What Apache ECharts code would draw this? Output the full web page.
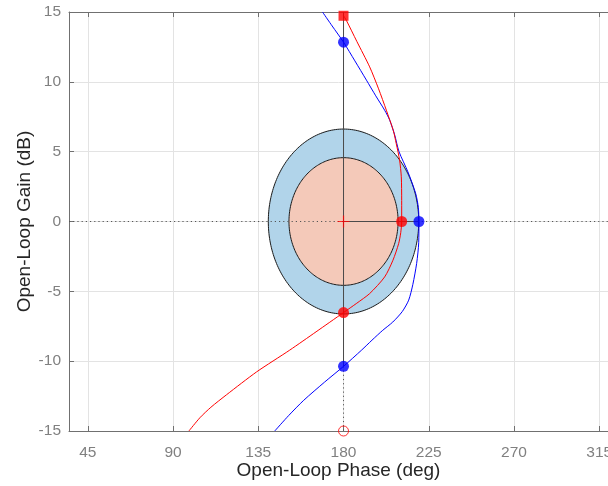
<!DOCTYPE html>
<html><head><meta charset="utf-8">
<script src="https://cdn.jsdelivr.net/npm/echarts@6/dist/echarts.min.js"></script>
<style>html,body{margin:0;padding:0;background:#fff}#c{width:608px;height:486px}</style>
</head><body><div id="c"></div><script>
// ---- data ----
const xTicks = [45, 90, 135, 180, 225, 270, 315];
const xRange = [35.1, 319.6];
const yRange = [-15, 15];
// disks: [centerPhase, centerGain, halfWidthDeg, halfHeightDb]
const outerDisk = [180, 0, 39.7, 6.62];
const innerDisk = [180, 0, 28.8, 4.57];
const blueCurve = [
  [168.9, 15], [174, 14], [180, 12.84], [186, 11.5], [192.1, 10.12], [197, 9.0],
  [201.7, 7.97], [204.4, 7.25], [207, 6.2], [209.3, 5.0], [214, 3.55], [218.1, 2.0],
  [219.5, 1.0], [219.8, 0], [219.7, -1.5], [218.6, -3.0], [216.6, -4.5], [214.4, -5.63],
  [211, -6.45], [206, -7.2], [200.7, -7.79], [195, -8.5], [189.6, -9.2],
  [180, -10.37], [170, -11.5], [159, -12.8], [151, -13.9], [143.7, -15]
];
const redCurve = [
  [180, 14.73], [181.5, 14.4], [187, 12.9], [193.8, 11.07], [198.5, 9.5], [202.6, 7.97],
  [206.3, 6.5], [207.8, 5.59], [209.6, 4.39], [210.5, 3.2], [210.7, 1.5], [210.7, 0],
  [210.2, -0.8], [209.1, -1.58], [206.1, -2.77], [201.7, -3.97], [193.8, -5.16],
  [187, -5.85], [180, -6.52], [165.5, -7.9], [151.6, -9.21], [134.1, -10.77],
  [118.3, -12.4], [110, -13.3], [104.2, -14.05], [98.4, -15]
];
const blueDots = [[180, 12.84], [219.8, 0], [180, -10.37]];
const redDots = [[210.7, 0], [180, -6.52]];
const redSquare = [[180, 14.73]];
const redCross = [[180, 0]];
const redOpen = [[180, -15]];
const gainLine = [[180, 15], [180, -10.37]];
const gainDotted = [[180, -10.37], [180, -15]];
const phaseLine = [[180, 0], [219.8, 0]];
const zeroDotted = [[35.1, 0], [319.6, 0]];

// ---- chart ----
const FONT = '"Liberation Sans", Arial, sans-serif';
function diskItem(fill) {
  return function (params, api) {
    const cx = api.value(0), cy = api.value(1), rx = api.value(2), ry = api.value(3);
    const pts = [];
    for (let i = 0; i < 240; i++) {
      const t = i / 240 * 2 * Math.PI;
      pts.push(api.coord([cx + rx * Math.cos(t), cy + ry * Math.sin(t)]));
    }
    return { type: 'polygon', shape: { points: pts }, style: { fill: fill, stroke: '#1a1a1a', lineWidth: 1 } };
  };
}
const chart = echarts.init(document.getElementById('c'), null, { renderer: 'canvas' });
const lineBase = { type: 'line', symbol: 'none', silent: true, animation: false };
chart.setOption({
  animation: false,
  backgroundColor: '#ffffff',
  grid: { left: 69, top: 12, right: 0, bottom: 55, outerBoundsMode: 'none', containLabel: false },
  xAxis: [{
    type: 'value', min: xRange[0], max: xRange[1],
    name: 'Open-Loop Phase (deg)', nameLocation: 'middle', nameGap: 30, nameMoveOverlap: false,
    nameTextStyle: { fontFamily: FONT, fontSize: 19, color: '#262626' },
    axisLine: { show: true, onZero: false, lineStyle: { color: '#707070', width: 1 } },
    axisTick: { show: true, inside: true, length: 5, customValues: xTicks, lineStyle: { color: '#707070' } },
    axisLabel: { customValues: xTicks, fontFamily: FONT, fontSize: 15.5, color: '#808080', margin: 14 },
    splitLine: { show: true, lineStyle: { color: '#e3e3e3', width: 1 } }
  }, {
    type: 'value', position: 'top', min: xRange[0], max: xRange[1],
    axisLine: { show: true, onZero: false, lineStyle: { color: '#707070', width: 1 } },
    axisTick: { show: true, inside: true, length: 5, customValues: xTicks, lineStyle: { color: '#707070' } },
    axisLabel: { show: false },
    splitLine: { show: false }
  }],
  yAxis: {
    type: 'value', min: yRange[0], max: yRange[1], interval: 5,
    name: 'Open-Loop Gain (dB)', nameLocation: 'middle', nameGap: 35, nameMoveOverlap: false,
    nameTextStyle: { fontFamily: FONT, fontSize: 19, color: '#262626' },
    axisLine: { show: true, onZero: false, lineStyle: { color: '#707070', width: 1 } },
    axisTick: { show: true, inside: true, length: 5, lineStyle: { color: '#707070' } },
    axisLabel: { fontFamily: FONT, fontSize: 15.5, color: '#808080', margin: 8 },
    splitLine: { show: true, lineStyle: { color: '#e3e3e3', width: 1 } }
  },
  series: [
    { type: 'custom', renderItem: diskItem('#b1d4ea'), data: [outerDisk], encode: { x: 0, y: 1 }, silent: true, z: 2 },
    { type: 'custom', renderItem: diskItem('#f4c9b9'), data: [innerDisk], encode: { x: 0, y: 1 }, silent: true, z: 2 },
    Object.assign({}, lineBase, { data: zeroDotted, z: 3, lineStyle: { color: '#555555', width: 1, type: [1.2, 3] } }),
    Object.assign({}, lineBase, { data: gainDotted, z: 3, lineStyle: { color: '#555555', width: 1, type: [1.2, 3] } }),
    Object.assign({}, lineBase, { data: gainLine, z: 3, lineStyle: { color: '#4a4a4a', width: 1 } }),
    Object.assign({}, lineBase, { data: phaseLine, z: 3, lineStyle: { color: '#4a4a4a', width: 1 } }),
    Object.assign({}, lineBase, { data: blueCurve, z: 4, smooth: 0.25, lineStyle: { color: '#0000ff', width: 1 } }),
    Object.assign({}, lineBase, { data: redCurve, z: 4, smooth: 0.25, lineStyle: { color: '#ff0000', width: 1 } }),
    { type: 'scatter', data: blueDots, symbol: 'circle', symbolSize: 11, clip: false, z: 5, itemStyle: { color: '#0000ff' }, silent: true },
    { type: 'scatter', data: redDots, symbol: 'circle', symbolSize: 11, clip: false, z: 5, itemStyle: { color: '#ff0000' }, silent: true },
    { type: 'scatter', data: redSquare, symbol: 'rect', symbolSize: 10, clip: false, z: 5, itemStyle: { color: '#ff0000' }, silent: true },
    { type: 'scatter', data: redCross, symbol: 'path://M0,5L10,5M5,0L5,10', symbolSize: 12, clip: false, z: 5,
      itemStyle: { color: 'none', borderColor: '#ff0000', borderWidth: 1.2 }, silent: true },
    { type: 'scatter', data: redOpen, symbol: 'circle', symbolSize: 10, clip: false, z: 5,
      itemStyle: { color: 'rgba(255,255,255,0)', borderColor: '#ff0000', borderWidth: 1 }, silent: true }
  ]
});
</script></body></html>
